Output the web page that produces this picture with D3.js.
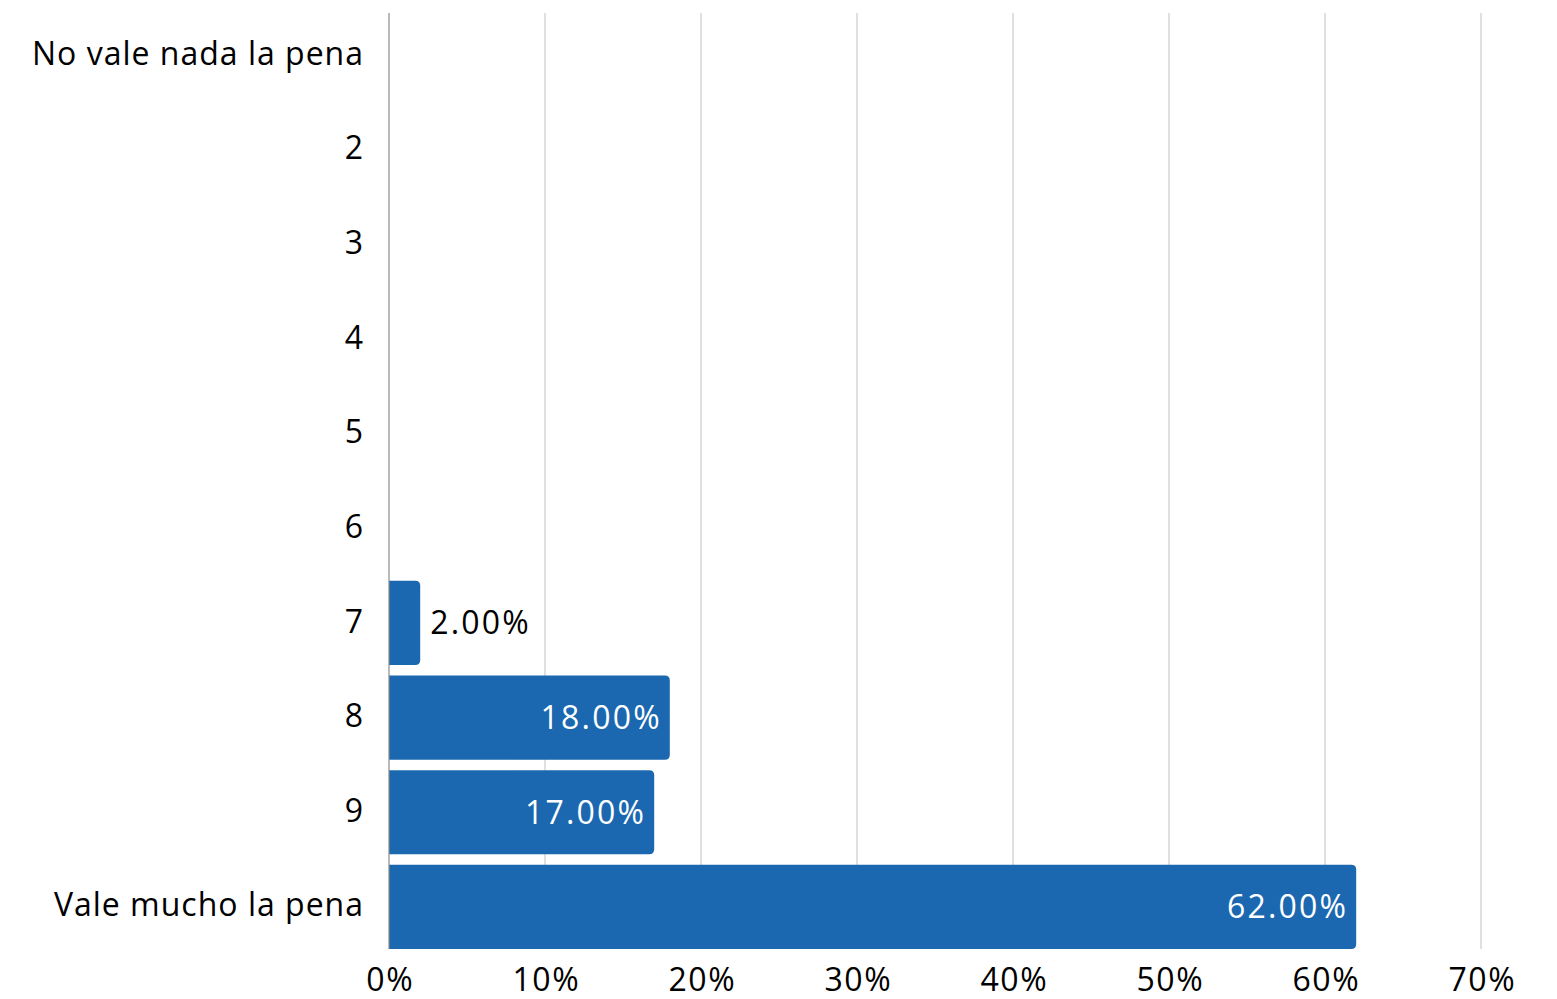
<!DOCTYPE html>
<html>
<head>
<meta charset="utf-8">
<script src="https://cdn.jsdelivr.net/npm/d3@7"></script>
<style>
html,body{margin:0;padding:0;background:#fff;}
svg{display:block;}
text{font-family:"Open Sans",sans-serif;}
</style>
</head>
<body>
<svg id="chart" width="1557" height="999"></svg>
<script>
const categories = ["No vale nada la pena","2","3","4","5","6","7","8","9","Vale mucho la pena"];
const values = [0,0,0,0,0,0,2,18,17,62];
const xTicks = [0,10,20,30,40,50,60,70];

const svg = d3.select("#chart");
const plotLeft = 389, plotRight = 1481, plotTop = 13, plotBottom = 949;
const fontSize = 32;

const x = d3.scaleLinear().domain([0,70]).range([plotLeft,plotRight]);
const y = d3.scaleBand().domain(categories).range([plotTop,plotBottom]).paddingInner(0.11).paddingOuter(0);

// gridlines
svg.append("g").selectAll("line").data(xTicks.filter(t=>t>0)).join("line")
  .attr("x1",d=>x(d)).attr("x2",d=>x(d)).attr("y1",plotTop).attr("y2",plotBottom)
  .attr("stroke","#cccccc").attr("stroke-width",1.2);

// bars (right corners rounded)
const r = 5;
function barPath(x0,x1,y0,h){
  const w = x1-x0;
  if (w<=0) return "";
  const rr = Math.min(r,w);
  return `M${x0},${y0}H${x1-rr}Q${x1},${y0} ${x1},${y0+rr}V${y0+h-rr}Q${x1},${y0+h} ${x1-rr},${y0+h}H${x0}Z`;
}
const rows = categories.map((c,i)=>({c,v:values[i]})).filter(d=>d.v>0);
svg.append("g").selectAll("path").data(rows).join("path")
  .attr("d",d=>barPath(x(0),x(d.v),y(d.c),y.bandwidth()))
  .attr("fill","#1b68b0");

// axis line
svg.append("line").attr("x1",plotLeft).attr("x2",plotLeft).attr("y1",plotTop).attr("y2",plotBottom)
  .attr("stroke","#8a8a8a").attr("stroke-width",1.2);

// value labels
svg.append("g").selectAll("text").data(rows).join("text")
  .attr("x",d=> d.v>=10 ? x(d.v)-8 : x(d.v)+10)
  .attr("y",d=>y(d.c)+y.bandwidth()/2)
  .attr("dy","0.36em")
  .attr("text-anchor",d=> d.v>=10 ? "end":"start")
  .attr("fill",d=> d.v>=10 ? "#fff":"#000")
  .attr("font-size",fontSize)
  .attr("letter-spacing","2.2px")
  .text(d=>d.v.toFixed(2)+"%");

// y axis labels
const yAxis = d3.axisLeft(y).tickSize(0).tickPadding(25);
const gy = svg.append("g").attr("transform",`translate(${plotLeft},0)`).call(yAxis);
gy.select(".domain").remove();
gy.selectAll("text").attr("font-size",fontSize).attr("fill","#000")
  .attr("font-family","Open Sans, sans-serif").attr("dy","0.3em")
  .attr("letter-spacing","1px");

// x axis labels
const xAxis = d3.axisBottom(x).tickValues(xTicks).tickSize(0).tickPadding(0).tickFormat(d=>d+"%");
const gx = svg.append("g").attr("transform",`translate(0,${plotBottom})`).call(xAxis);
gx.select(".domain").remove();
gx.selectAll("text").attr("font-size",fontSize).attr("fill","#000")
  .attr("font-family","Open Sans, sans-serif").attr("dy",null).attr("y",42)
  .attr("letter-spacing","1.6px").attr("dx","0.8px");
</script>
</body>
</html>
